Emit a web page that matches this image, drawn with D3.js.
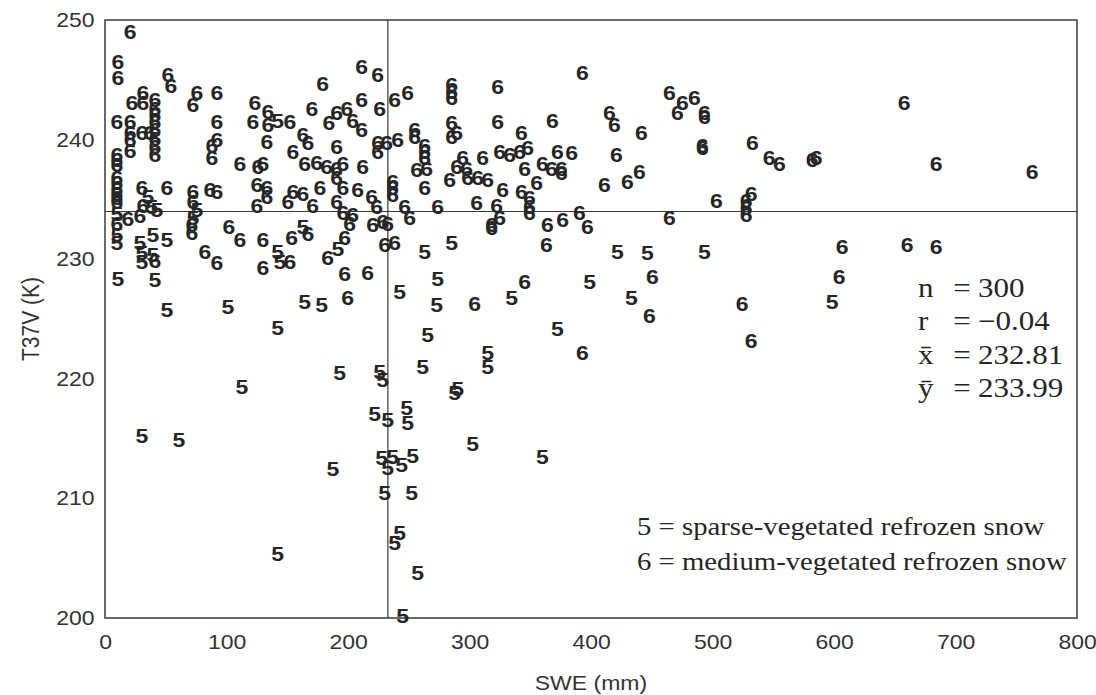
<!DOCTYPE html>
<html>
<head>
<meta charset="utf-8">
<script src="https://cdn.jsdelivr.net/npm/d3@7"></script>
<style>
  body { margin: 0; background: #fff; }
  svg { display: block; }
</style>
</head>
<body>
<div id="chart"></div>
<script>
// [SWE mm, T37V K]
var class5 = [
  [142.2,241.6],[35.4,235.2],[42.8,234.1],[9.9,233.8],[38.6,234.4],[9.9,232.0],[9.9,231.4],[28.8,231.4],[39.5,232.0],[51.0,231.6],
  [75.6,234.1],[72.4,233.5],[162.8,232.7],[30.4,230.5],[30.4,229.8],[39.5,230.4],[10.7,228.4],[41.1,228.3],[142.2,230.6],[143.9,229.8],
  [191.6,230.9],[51.0,225.8],[101.1,226.0],[164.4,226.4],[178.4,226.2],[142.2,224.3],[193.2,220.5],[112.6,219.3],[30.4,215.2],[60.8,214.9],
  [187.5,212.5],[142.2,205.4],[263.1,230.6],[285.3,231.4],[273.8,228.4],[242.5,227.3],[273.0,226.2],[334.6,226.8],[265.6,223.7],[372.4,224.2],
  [314.9,222.2],[314.9,221.0],[261.4,221.0],[226.1,220.6],[228.6,219.9],[290.2,219.2],[287.8,218.8],[222.0,217.1],[232.7,216.6],[248.3,217.6],
  [249.1,216.3],[302.6,214.6],[360.1,213.5],[227.7,213.4],[236.8,213.5],[244.2,212.8],[253.2,213.6],[232.7,212.6],[230.2,210.5],[252.4,210.5],
  [242.5,207.1],[238.4,206.3],[257.3,203.8],[245.0,200.2],[421.8,230.6],[446.4,230.5],[493.3,230.6],[398.8,228.1],[433.3,226.8],[598.5,226.4]
];

var class6 = [
  [20.6,249.0],[10.7,246.5],[10.7,245.2],[51.8,245.4],[54.3,244.5],[22.2,243.1],[31.2,243.9],[31.2,243.1],
  [41.1,243.3],[41.1,242.6],[41.1,242.1],[41.1,241.5],[41.1,240.8],[41.1,240.1],[41.1,239.4],[41.1,238.7],
  [75.6,243.9],[72.4,242.9],[92.1,243.9],[9.9,241.5],[20.6,241.5],[20.6,240.6],[20.6,240.0],[20.6,239.1],[30.4,240.6],[37.0,240.6],
  [92.1,241.5],[92.1,240.0],[88.0,239.5],[88.0,238.5],[123.3,243.1],[121.7,241.5],[134.0,242.3],[134.0,241.2],[152.1,241.5],[133.2,239.8],
  [111.0,238.0],[125.8,237.7],[129.9,238.0],[170.2,242.6],[179.2,244.7],[184.2,241.4],[190.7,242.2],[199.0,242.6],
  [162.8,240.4],[166.9,239.7],[154.6,239.0],[190.7,239.4],[164.4,238.0],[174.3,238.1],[182.5,237.7],[190.7,237.6],[195.7,238.0],[190.7,236.8],
  [9.9,238.7],[9.9,238.3],[9.9,237.9],[9.9,236.8],[9.9,236.4],[9.9,235.9],[9.9,235.5],[9.9,235.1],[9.9,234.8],
  [30.4,236.0],[31.2,234.5],[51.0,236.0],[72.4,235.6],[72.4,234.8],[86.3,235.8],[92.1,235.6],
  [125.0,236.2],[133.2,236.0],[133.2,235.2],[125.0,234.5],[150.5,234.8],[154.6,235.6],[162.8,235.5],[171.0,234.5],[176.8,236.0],
  [190.7,234.8],[195.7,236.0],[195.7,233.9],[18.9,233.4],[28.8,233.6],[9.9,233.0],[71.5,232.9],[71.5,232.2],[102.0,232.7],[111.0,231.6],
  [166.9,232.1],[153.7,231.8],[41.1,229.9],[82.2,230.6],[92.1,229.7],[129.9,231.6],[129.9,229.3],[152.1,229.8],[183.3,230.1],[197.3,231.8],[197.3,228.8],[199.8,226.8],
  [211.3,246.1],[224.5,245.4],[211.3,243.3],[203.9,241.6],[211.3,240.8],[226.1,242.6],[238.4,243.3],[249.1,243.9],
  [285.3,244.6],[285.3,244.0],[285.3,243.5],[323.1,244.4],[393.0,245.6],
  [224.5,239.7],[224.5,239.0],[231.9,239.7],[240.9,240.0],[212.1,237.7],[254.9,240.8],[254.9,240.2],[263.1,239.5],[263.1,239.0],[263.1,238.5],[264.7,237.6],[256.5,237.5],[263.1,236.0],
  [285.3,241.4],[285.3,240.2],[289.4,240.6],[323.1,241.5],[342.8,240.6],[347.8,239.3],[368.3,241.6],[324.8,239.0],[333.0,238.7],[341.2,239.0],[310.8,238.5],[294.3,238.5],[297.6,237.6],[289.4,237.7],
  [298.4,236.8],[306.7,236.8],[314.9,236.6],[283.6,236.6],[372.4,239.0],[384.0,238.9],[345.3,237.6],[360.1,238.0],[367.5,237.6],[375.7,237.6],[375.7,237.2],[355.2,236.4],
  [236.8,236.5],[236.8,236.0],[236.8,235.4],[208.0,235.8],[219.5,235.2],[223.6,234.4],[327.2,235.8],[342.8,235.6],[349.4,235.1],[349.4,234.4],[349.4,233.9],
  [246.7,234.4],[250.8,233.5],[273.8,234.4],[305.8,234.7],[322.3,234.5],[324.8,233.5],[318.2,232.9],[228.6,233.1],[220.3,232.9],[232.7,233.0],
  [364.2,232.9],[376.6,233.3],[390.5,233.9],[397.1,232.7],[203.9,233.7],[201.4,233.0],[230.2,231.2],[238.4,231.4],[318.2,232.6],[363.4,231.2],
  [216.2,228.9],[304.2,226.3],[345.3,228.1],[393.0,222.2],
  [415.2,242.2],[419.3,241.2],[441.5,240.6],[421.0,238.7],[464.5,243.9],[475.2,243.1],[471.1,242.2],[485.1,243.5],[493.3,242.2],[493.3,241.9],[491.7,239.5],[491.7,239.3],
  [411.1,236.2],[430.0,236.5],[439.9,237.3],[532.8,239.7],[546.7,238.5],[555.0,238.0],[582.1,238.3],[585.4,238.5],
  [503.2,234.9],[527.8,234.9],[531.9,235.5],[527.8,234.3],[527.8,233.7],[464.5,233.5],
  [450.5,228.5],[448.1,225.3],[524.5,226.3],[531.9,223.2],
  [657.7,243.1],[684.0,238.0],[763.0,237.3],[606.8,231.0],[660.2,231.2],[684.0,231.0],[604.3,228.5]
];

var xTicks = [0, 100, 200, 300, 400, 500, 600, 700, 800];
var yTicks = [200, 210, 220, 230, 240, 250];
var meanX = 232.81, meanY = 233.99;
var statLabels = ["n", "r", "x\u0304", "y\u0304"];
var statValues = ["300", "\u22120.04", "232.81", "233.99"];
var legendLines = ["5 = sparse-vegetated refrozen snow", "6 = medium-vegetated refrozen snow"];

// the picture is a bit wider than tall, so draw in a squeezed box and stretch it
var W = 1096, H = 695, SX = 1.15;
var plotLeft = 105, plotRight = 1077, plotTop = 20, plotBottom = 618;

var svg = d3.select("#chart").append("svg")
    .attr("width", W)
    .attr("height", H)
    .attr("viewBox", `0 0 ${W / SX} ${H}`)
    .attr("preserveAspectRatio", "none");

var x = d3.scaleLinear().domain([0, 800]).range([plotLeft / SX, plotRight / SX]);
var y = d3.scaleLinear().domain([200, 250]).range([plotBottom, plotTop]);

var sans = "Arial, 'Liberation Sans', sans-serif";
var serif = "'Times New Roman', 'Liberation Serif', serif";
var ink = "#262626";

svg.append("rect").attr("width", W / SX).attr("height", H).attr("fill", "#fff");

// axes (labels only, no tick marks)
var xAxis = svg.append("g")
    .attr("transform", `translate(0,${plotBottom})`)
    .call(d3.axisBottom(x).tickValues(xTicks).tickSize(0).tickPadding(17));
var yAxis = svg.append("g")
    .attr("transform", `translate(${x(0)},0)`)
    .call(d3.axisLeft(y).tickValues(yTicks).tickSize(0).tickPadding(9));

[xAxis, yAxis].forEach(function(g) {
    g.select(".domain").remove();
    g.selectAll("text")
        .style("font-family", sans)
        .style("font-size", "20px")
        .attr("fill", "#333");
});

// plot frame
svg.append("rect")
    .attr("x", x(0))
    .attr("y", y(250))
    .attr("width", x(800) - x(0))
    .attr("height", y(200) - y(250))
    .attr("fill", "none")
    .attr("stroke", "#3a3a3a")
    .attr("stroke-width", 1.5)
    .attr("vector-effect", "non-scaling-stroke");

// mean lines
svg.append("line")
    .attr("x1", x(meanX)).attr("x2", x(meanX))
    .attr("y1", y(250)).attr("y2", y(200))
    .attr("stroke", "#3a3a3a").attr("stroke-width", 1.2)
    .attr("vector-effect", "non-scaling-stroke");
svg.append("line")
    .attr("x1", x(0)).attr("x2", x(800))
    .attr("y1", y(meanY)).attr("y2", y(meanY))
    .attr("stroke", "#3a3a3a").attr("stroke-width", 1.2)
    .attr("vector-effect", "non-scaling-stroke");

// points drawn as class digits
function drawClass(data, label) {
    svg.append("g").selectAll("text")
        .data(data).enter()
        .append("text")
        .attr("x", function(d) { return x(d[0]); })
        .attr("y", function(d) { return y(d[1]); })
        .attr("dy", "0.36em")
        .attr("text-anchor", "middle")
        .style("font-family", sans)
        .style("font-size", "20px")
        .style("font-weight", "bold")
        .attr("fill", ink)
        .text(label);
}
drawClass(class5, "5");
drawClass(class6, "6");

// axis titles
svg.append("text")
    .attr("x", (x(0) + x(800)) / 2)
    .attr("y", 690)
    .attr("text-anchor", "middle")
    .style("font-family", sans)
    .style("font-size", "20px")
    .attr("fill", "#333")
    .text("SWE (mm)");

svg.append("text")
    .attr("transform", `translate(${30 / SX},${(plotTop + plotBottom) / 2}) rotate(-90)`)
    .attr("dy", "0.36em")
    .attr("text-anchor", "middle")
    .style("font-family", sans)
    .style("font-size", "21px")
    .attr("fill", "#333")
    .text("T37V (K)");

// statistics block
var stats = svg.append("g").style("font-family", serif).style("font-size", "27px").attr("fill", ink);
statLabels.forEach(function(s, i) {
    var yy = 297 + i * 33.5;
    stats.append("text").attr("x", 918 / SX).attr("y", yy).text(s);
    stats.append("text").attr("x", 962 / SX).attr("y", yy).attr("text-anchor", "middle").text("=");
    stats.append("text").attr("x", 978 / SX).attr("y", yy).text(statValues[i]);
});

// class legend
svg.append("g").selectAll("text")
    .data(legendLines).enter()
    .append("text")
    .attr("x", 637 / SX)
    .attr("y", function(d, i) { return 535 + i * 35; })
    .style("font-family", serif)
    .style("font-size", "25px")
    .attr("fill", ink)
    .text(function(d) { return d; });
</script>
</body>
</html>
